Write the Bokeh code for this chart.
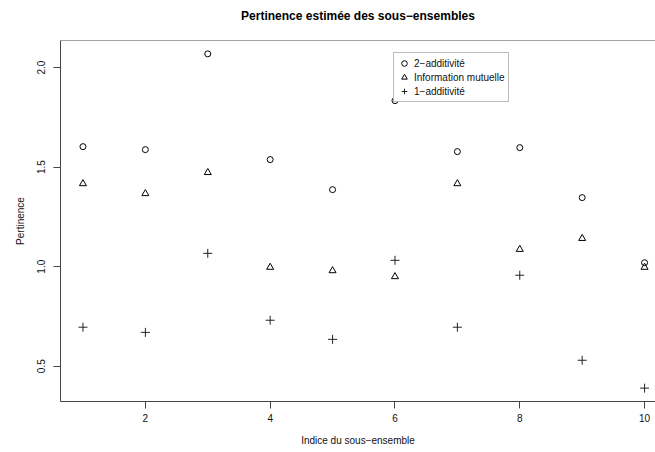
from bokeh.plotting import figure
from bokeh.models import Range1d, FixedTicker, Legend, LegendItem, Span, CustomJSTickFormatter, Title
from bokeh.embed import file_html
from bokeh.resources import INLINE

# ---- data ----
indices = [1, 2, 3, 4, 5, 6, 7, 8, 9, 10]
additivite_2 = [1.603, 1.588, 2.069, 1.538, 1.387, 1.834, 1.578, 1.598, 1.347, 1.020]
information_mutuelle = [1.417, 1.367, 1.473, 0.997, 0.980, 0.950, 1.417, 1.087, 1.142, 0.997]
additivite_1 = [0.696, 0.670, 1.067, 0.731, 0.635, 1.032, 0.696, 0.957, 0.530, 0.390]
x_ticks = [2, 4, 6, 8, 10]
y_ticks = [0.5, 1.0, 1.5, 2.0]
series_names = ["2\u2212additivit\u00e9", "Information mutuelle", "1\u2212additivit\u00e9"]
title_text = "Pertinence estim\u00e9e des sous\u2212ensembles"
x_label = "Indice du sous\u2212ensemble"
y_label = "Pertinence"

FONT = "Liberation Sans"
INK = "#111111"

# R-style 4% range extension
ymin, ymax = min(additivite_1), max(additivite_2)
yext = (ymax - ymin) * 0.04
y_lo, y_hi = ymin - yext, ymax + yext
x_lo = 1 - 0.04 * 9
x_hi = 10.175  # plot region is cropped on the right in the reference

p = figure(width=655, height=452, output_backend="svg", toolbar_location=None,
           x_range=Range1d(x_lo, x_hi), y_range=Range1d(y_lo, y_hi),
           min_border_left=60, min_border_right=0, min_border_top=40, min_border_bottom=51)

p.title.text = ""
# spacer between the frame and the title, then the title itself
p.add_layout(Title(text=" ", text_font=FONT, text_font_size="10px", standoff=0), "above")
p.add_layout(Title(text=title_text, align="center", text_font=FONT, text_font_size="12px",
                   text_font_style="bold", text_color="#000000", standoff=10), "above")

p.xgrid.visible = False
p.ygrid.visible = False
p.outline_line_color = None
p.background_fill_color = "white"
p.border_fill_color = "white"

for ax in (p.xaxis[0], p.yaxis[0]):
    ax.axis_line_color = "#444444"
    ax.axis_line_width = 1
    ax.major_tick_line_color = "#444444"
    ax.major_tick_out = 7
    ax.major_tick_in = 0
    ax.minor_tick_line_color = None
    ax.major_label_text_font = FONT
    ax.major_label_text_font_size = "10px"
    ax.major_label_text_color = INK
    ax.axis_label_text_font = FONT
    ax.axis_label_text_font_size = "10px"
    ax.axis_label_text_font_style = "normal"
    ax.axis_label_text_color = INK

p.xaxis[0].ticker = FixedTicker(ticks=x_ticks)
p.yaxis[0].ticker = FixedTicker(ticks=y_ticks)
p.yaxis[0].formatter = CustomJSTickFormatter(code="return tick.toFixed(1);")
p.yaxis[0].major_label_orientation = "vertical"
p.xaxis[0].axis_label = x_label
p.yaxis[0].axis_label = y_label
p.xaxis[0].major_label_standoff = 5
p.xaxis[0].axis_label_standoff = 10
p.yaxis[0].major_label_standoff = 8
p.yaxis[0].axis_label_standoff = 9

# top border of the box
p.add_layout(Span(location=y_hi, dimension="width", line_color="#444444", line_width=1))

r1 = p.scatter(indices, additivite_2, marker="circle", size=6, fill_color=None,
               line_color="black", line_width=1)
r2 = p.scatter(indices, information_mutuelle, marker="triangle", size=7, fill_color=None,
               line_color="black", line_width=1)
r3 = p.scatter(indices, additivite_1, marker="cross", size=9,
               line_color="#222222", line_width=1)

legend = Legend(items=[LegendItem(label=series_names[0], renderers=[r1]),
                       LegendItem(label=series_names[1], renderers=[r2]),
                       LegendItem(label=series_names[2], renderers=[r3])],
                location=(333, 299), orientation="vertical",
                label_text_font=FONT, label_text_font_size="10px", label_text_color=INK,
                glyph_width=14, glyph_height=14, label_height=13, spacing=-1,
                padding=3, label_standoff=3, margin=0,
                border_line_color="#777777", border_line_width=1,
                background_fill_color="white", background_fill_alpha=1.0)
p.add_layout(legend, "center")

open("out.html", "w").write(file_html(p, INLINE))
